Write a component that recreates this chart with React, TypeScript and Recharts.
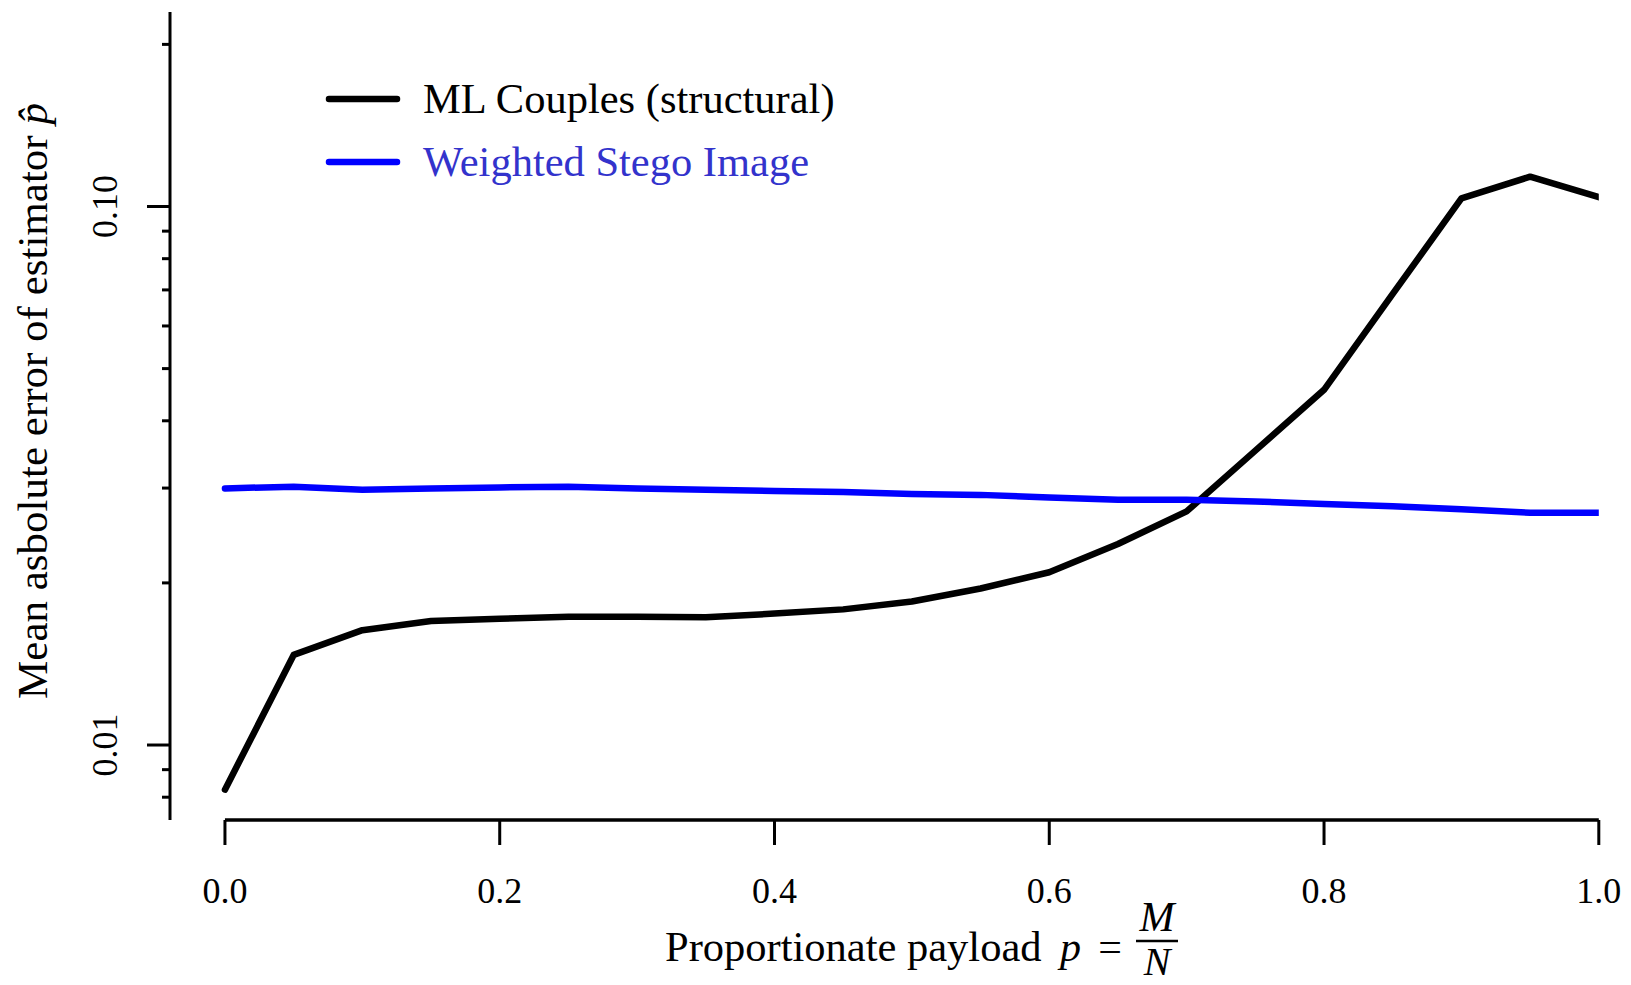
import React from 'react';
import { LineChart, Line, XAxis, YAxis, Legend, ReferenceLine } from 'recharts';

// ---- data ----
const payloadValues = [0, 0.05, 0.1, 0.15, 0.2, 0.25, 0.3, 0.35, 0.4, 0.45, 0.5, 0.55, 0.6, 0.65, 0.7, 0.75, 0.8, 0.85, 0.9, 0.95, 1.0];
const mlCouplesError = [0.00826, 0.0147, 0.01634, 0.01699, 0.01715, 0.01731, 0.01731, 0.01727, 0.01754, 0.01786, 0.01847, 0.01953, 0.02093, 0.02362, 0.02715, 0.03521, 0.04567, 0.0688, 0.1035, 0.1136, 0.1041];
const weightedStegoError = [0.02996, 0.03018, 0.0298, 0.02996, 0.03008, 0.03018, 0.02996, 0.0298, 0.02963, 0.02951, 0.02924, 0.02914, 0.02882, 0.02855, 0.02855, 0.02834, 0.02803, 0.02776, 0.02741, 0.027, 0.027];

const xTicks = [0, 0.2, 0.4, 0.6, 0.8, 1.0];
const xTickLabels = ['0.0', '0.2', '0.4', '0.6', '0.8', '1.0'];
const yTicks = [0.008, 0.009, 0.01, 0.02, 0.03, 0.04, 0.05, 0.06, 0.07, 0.08, 0.09, 0.1, 0.2];
const yLabeledTicks = [0.01, 0.1];
const yLabeledTickText = ['0.01', '0.10'];

const seriesNames = ['ML Couples (structural)', 'Weighted Stego Image'];
const seriesColors = ['#000000', '#0000ff'];
const legendTextColors = ['#000000', '#3333cc'];

const xDomain = [-0.04, 1.0];
const yDomain = [0.007257, 0.2297];

const data = payloadValues.map((p, i) => ({ p, ml: mlCouplesError[i], ws: weightedStegoError[i] }));

const FONT = '"Liberation Serif", "Times New Roman", serif';

const XTick = (props: any) => {
  const { x, y, payload } = props;
  const idx = xTicks.findIndex((t) => Math.abs(t - payload.value) < 1e-9);
  const label = idx >= 0 ? xTickLabels[idx] : '';
  return (
    <text x={x} y={y + 58} textAnchor="middle" fontSize={36} fontFamily={FONT} fill="#000">
      {label}
    </text>
  );
};

const YTick = (props: any) => {
  const { x, y, payload } = props;
  const idx = yLabeledTicks.findIndex((t) => Math.abs(t - payload.value) < 1e-9);
  const len = idx >= 0 ? 23 : 8;
  const lx = x - 53;
  return (
    <g>
      <line x1={x} x2={x - len} y1={y} y2={y} stroke="#000" strokeWidth={3} />
      {idx >= 0 && (
        <text x={lx} y={y} transform={`rotate(-90 ${lx} ${y})`} textAnchor="middle" fontSize={36} fontFamily={FONT} fill="#000">
          {yLabeledTickText[idx]}
        </text>
      )}
    </g>
  );
};

const XTitle = () => (
  <g fontFamily={FONT} fill="#000">
    <text x={665} y={961} fontSize={42.5}>Proportionate payload</text>
    <text x={1060} y={961} fontSize={42} fontStyle="italic">p</text>
    <text x={1110} y={961} fontSize={42} textAnchor="middle">=</text>
    <text x={1157} y={931} fontSize={42} fontStyle="italic" textAnchor="middle">M</text>
    <line x1={1136} x2={1178} y1={941} y2={941} stroke="#000" strokeWidth={2.5} />
    <text x={1157} y={975} fontSize={40} fontStyle="italic" textAnchor="middle">N</text>
  </g>
);

const YTitle = () => (
  <text x={47} y={401} transform="rotate(-90 47 401)" textAnchor="middle" fontSize={43} fontFamily={FONT} fill="#000">
    Mean asbolute error of estimator <tspan fontStyle="italic">p̂</tspan>
  </text>
);

const LegendContent = () => (
  <svg width={600} height={140} style={{ display: 'block' }}>
    {seriesNames.map((name, i) => {
      const ly = 39 + i * 63;
      return (
        <g key={name}>
          <line x1={9} x2={77} y1={ly} y2={ly} stroke={seriesColors[i]} strokeWidth={6.5} strokeLinecap="round" />
          <text x={103} y={ly + 14} fontSize={42.5} fontFamily={FONT} fill={legendTextColors[i]}>
            {name}
          </text>
        </g>
      );
    })}
  </svg>
);

export default function App() {
  return (
    <div style={{ position: 'absolute', left: 0, top: 0, width: 1631, height: 985, background: '#fff' }}>
      <LineChart width={1631} height={985} data={data} margin={{ top: 12, right: 32.2, bottom: 0, left: 0 }}>
        <XAxis
          dataKey="p"
          type="number"
          domain={xDomain}
          allowDataOverflow
          ticks={xTicks}
          axisLine={false}
          tickLine={{ stroke: '#000', strokeWidth: 3 }}
          tickSize={25}
          tickMargin={0}
          tick={<XTick />}
          height={165}
          interval={0}
          label={{ content: () => <XTitle /> }}
        />
        <YAxis
          type="number"
          scale="log"
          domain={yDomain}
          allowDataOverflow
          ticks={yTicks}
          interval={0}
          width={170}
          axisLine={{ stroke: '#000', strokeWidth: 3 }}
          tickLine={false}
          tickSize={0}
          tickMargin={0}
          tick={<YTick />}
          label={{ content: () => <YTitle /> }}
        />
        <ReferenceLine
          segment={[{ x: 0, y: yDomain[0] }, { x: 1, y: yDomain[0] }]}
          stroke="#000"
          strokeWidth={3.5}
          ifOverflow="visible"
        />
        <Legend
          layout="vertical"
          verticalAlign="middle"
          align="center"
          wrapperStyle={{ left: 320, top: 60, width: 600, height: 140 }}
          content={() => <LegendContent />}
        />
        <Line
          type="linear"
          dataKey="ml"
          name={seriesNames[0]}
          stroke={seriesColors[0]}
          strokeWidth={6.5}
          strokeLinecap="round"
          strokeLinejoin="round"
          dot={false}
          activeDot={false}
          isAnimationActive={false}
        />
        <Line
          type="linear"
          dataKey="ws"
          name={seriesNames[1]}
          stroke={seriesColors[1]}
          strokeWidth={6.5}
          strokeLinecap="round"
          strokeLinejoin="round"
          dot={false}
          activeDot={false}
          isAnimationActive={false}
        />
      </LineChart>
    </div>
  );
}
